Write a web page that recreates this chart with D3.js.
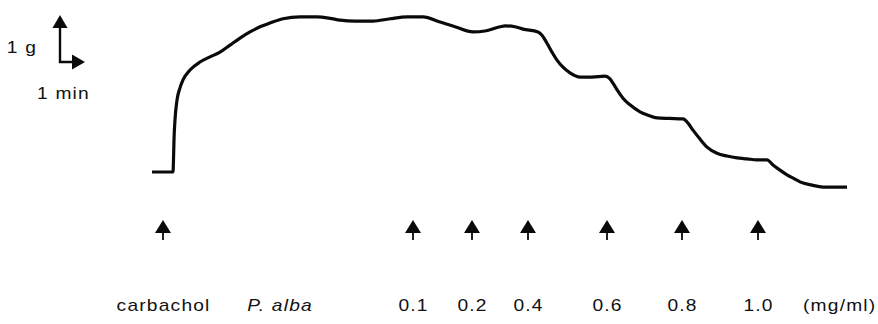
<!DOCTYPE html>
<html>
<head>
<meta charset="utf-8">
<script src="https://cdn.jsdelivr.net/npm/d3@7"></script>
<style>
  html, body { margin: 0; padding: 0; background: #fff; }
  svg { display: block; }
  text { font-family: "Liberation Sans", Arial, sans-serif; fill: #111; letter-spacing: 1px; }
</style>
</head>
<body>
<svg id="chart" width="878" height="324"></svg>
<script>
// Isometric tension trace (g) versus time (min)
const timeMin = [0, 0.84, 0.86, 0.88, 0.92, 1.00, 1.12, 1.24, 1.52, 1.92, 2.32, 2.72, 3.12, 3.52, 3.92,
  4.32, 4.72, 5.24, 5.92, 6.60, 7.12, 7.52, 8.12, 8.84, 9.52, 10.20, 10.84, 11.52, 12.12, 12.84,
  13.32, 13.92, 14.12, 14.52, 14.84, 15.44, 15.60, 15.80, 16.00, 16.20, 16.44, 16.72, 17.12, 17.60,
  18.12, 18.32, 18.44, 18.64, 18.84, 19.12, 19.52, 19.84, 20.20, 20.72, 21.24, 21.44, 21.64, 21.92,
  22.20, 22.60, 23.00, 23.40, 23.80, 24.20, 24.60, 24.84, 25.12, 25.40, 25.72, 25.92, 26.40, 26.84,
  27.32, 27.80];
const tensionG = [0, 0, 0.26, 0.68, 1.11, 1.53, 1.79, 1.96, 2.17, 2.34, 2.45, 2.55, 2.70, 2.85, 2.98,
  3.09, 3.17, 3.26, 3.30, 3.30, 3.27, 3.23, 3.21, 3.21, 3.26, 3.30, 3.30, 3.19, 3.09, 2.98,
  3.00, 3.09, 3.11, 3.09, 3.04, 2.98, 2.91, 2.74, 2.55, 2.38, 2.23, 2.11, 2.02, 2.02,
  2.04, 1.98, 1.89, 1.72, 1.57, 1.43, 1.28, 1.21, 1.15, 1.14, 1.13, 1.04, 0.89, 0.70,
  0.53, 0.40, 0.34, 0.30, 0.28, 0.26, 0.26, 0.15, 0.04, -0.06, -0.15, -0.21, -0.28, -0.32,
  -0.32, -0.32];

// Additions: carbachol, then cumulative P. alba concentrations
const doseLabels = ["carbachol", "0.1", "0.2", "0.4", "0.6", "0.8", "1.0"];
const doseTimes = [0.44, 10.44, 12.80, 15.04, 18.20, 21.20, 24.24];
const extractLabel = "P. alba";
const extractLabelTime = 5.1;
const unitLabel = "(mg/ml)";
const unitLabelTime = 26.04;

// Calibration bar values
const barTension = 1;   // g
const barTime = 1;      // min
const barTensionLabel = "1 g";
const barTimeLabel = "1 min";

const svg = d3.select("#chart");

const x = d3.scaleLinear().domain([0, 27.8]).range([152, 847]);
const y = d3.scaleLinear().domain([-0.5, 3.5]).range([195.5, 7.5]);

const data = timeMin.map((t, i) => ({ t, g: tensionG[i] }));

svg.append("path")
  .datum(data)
  .attr("fill", "none")
  .attr("stroke", "#0a0a0a")
  .attr("stroke-width", 3.2)
  .attr("stroke-linejoin", "round")
  .attr("stroke-linecap", "butt")
  .attr("d", d3.line().x(d => x(d.t)).y(d => y(d.g)).curve(d3.curveMonotoneX));

// Addition markers
const arrowTop = 220, arrowBase = 233, arrowStem = 240, arrowHalf = 8;
const marks = svg.append("g");
doseTimes.forEach(t => {
  const cx = x(t);
  marks.append("path")
    .attr("d", `M${cx},${arrowTop} L${cx + arrowHalf},${arrowBase} L${cx - arrowHalf},${arrowBase} Z`)
    .attr("fill", "#0a0a0a");
  marks.append("line")
    .attr("x1", cx).attr("x2", cx)
    .attr("y1", arrowBase - 1).attr("y2", arrowStem)
    .attr("stroke", "#0a0a0a").attr("stroke-width", 1.8);
});

// Wide-set label text: drawn at (px, py) and stretched horizontally
const stretch = 1.2;
function label(parent, px, py, s, anchor, italic) {
  const t = parent.append("text")
    .attr("transform", `translate(${px},${py}) scale(${stretch},1)`)
    .attr("text-anchor", anchor)
    .attr("font-size", 16)
    .text(s);
  if (italic) t.attr("font-style", "italic");
  return t;
}

const labelY = 311;
const labels = svg.append("g");
doseLabels.forEach((s, i) => label(labels, x(doseTimes[i]) + 0.6, labelY, s, "middle", false));
label(labels, x(extractLabelTime) + 0.6, labelY, extractLabel, "middle", true);
label(labels, x(unitLabelTime), labelY, unitLabel, "start", false);

// Calibration bar
const bx = 60, by = 62;
const upLen = y(0) - y(barTension);
const rightLen = x(barTime) - x(0);
const head = 13, headHalf = 7.5;
const bar = svg.append("g");
bar.append("path")
  .attr("d", `M${bx},${by - upLen + head} L${bx},${by} L${bx + rightLen - head},${by}`)
  .attr("fill", "none").attr("stroke", "#0a0a0a").attr("stroke-width", 2.4);
bar.append("path")
  .attr("d", `M${bx},${by - upLen} L${bx + headHalf},${by - upLen + head} L${bx - headHalf},${by - upLen + head} Z`)
  .attr("fill", "#0a0a0a");
bar.append("path")
  .attr("d", `M${bx + rightLen},${by} L${bx + rightLen - head},${by - headHalf} L${bx + rightLen - head},${by + headHalf} Z`)
  .attr("fill", "#0a0a0a");
label(bar, 37, 53, barTensionLabel, "end", false);
label(bar, 37, 99, barTimeLabel, "start", false);
</script>
</body>
</html>
